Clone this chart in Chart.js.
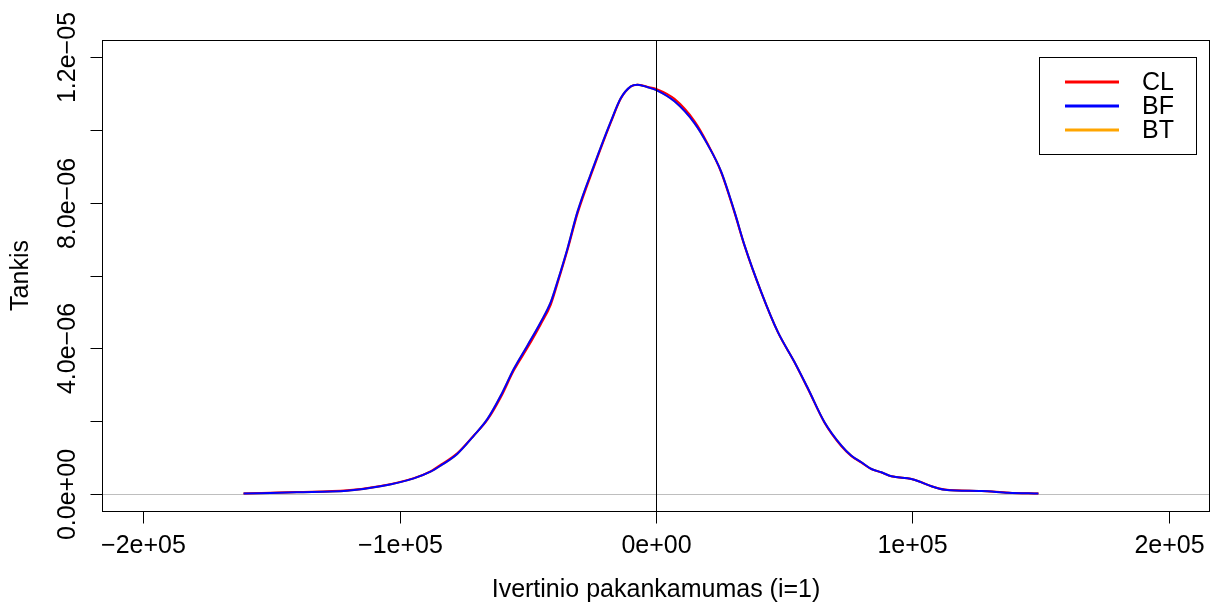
<!DOCTYPE html>
<html>
<head>
<meta charset="utf-8">
<script src="https://cdn.jsdelivr.net/npm/chart.js@4"></script>
<style>
  body { margin: 0; background: #ffffff; }
  #wrap { width: 1211px; height: 603px; }
</style>
</head>
<body>
<div id="wrap"><canvas id="densityChart" width="1211" height="603"></canvas></div>
<script>
// density grid (x) and the three estimated densities
const xGrid = [-160800, -140000, -120400, -107400, -94400, -87900, -84000, -77500, -71000, -65700,
  -60500, -55400, -50100, -44900, -41000, -38400, -34500, -30600, -24100, -17600,
  -13700, -9800, -7200, -3200, 300, 7200, 15000, 20200, 25400, 30600,
  34500, 41000, 47500, 54000, 59300, 65700, 72300, 76200, 80100, 84000,
  87900, 91800, 99600, 103500, 107400, 112600, 127000, 137400, 149100];

const densCL = [0.0, 0.040, 0.090, 0.210, 0.425, 0.610, 0.790, 1.110, 1.600, 2.030,
  2.650, 3.390, 4.010, 4.660, 5.200, 5.780, 6.700, 7.700, 9.000, 10.210,
  10.870, 11.200, 11.250, 11.190, 11.130, 10.860, 10.250, 9.620, 8.840, 7.730,
  6.820, 5.540, 4.440, 3.610, 2.870, 1.950, 1.300, 1.030, 0.850, 0.670,
  0.580, 0.475, 0.400, 0.310, 0.200, 0.110, 0.072, 0.025, 0.0];

const densBF = [0.0, 0.033, 0.077, 0.199, 0.419, 0.601, 0.767, 1.090, 1.595, 2.055,
  2.698, 3.434, 4.077, 4.723, 5.274, 5.834, 6.745, 7.757, 9.043, 10.240,
  10.883, 11.205, 11.250, 11.178, 11.095, 10.792, 10.193, 9.594, 8.861, 7.757,
  6.836, 5.550, 4.447, 3.619, 2.883, 1.964, 1.319, 1.043, 0.861, 0.676,
  0.585, 0.475, 0.400, 0.309, 0.199, 0.105, 0.069, 0.022, 0.0];

const densBT = [0.0, 0.033, 0.077, 0.199, 0.419, 0.601, 0.767, 1.090, 1.595, 2.055,
  2.698, 3.434, 4.077, 4.723, 5.274, 5.834, 6.745, 7.757, 9.043, 10.240,
  10.883, 11.205, 11.250, 11.178, 11.095, 10.792, 10.193, 9.594, 8.861, 7.757,
  6.836, 5.550, 4.447, 3.619, 2.883, 1.964, 1.319, 1.043, 0.861, 0.676,
  0.585, 0.475, 0.400, 0.309, 0.199, 0.105, 0.069, 0.022, 0.0];

const seriesNames = ['CL', 'BF', 'BT'];
const seriesColors = ['#ff0000', '#0000ff', '#ffa500'];

const xTickValues = [-200000, -100000, 0, 100000, 200000];
const xTickLabels = ['\u22122e+05', '\u22121e+05', '0e+00', '1e+05', '2e+05'];
const yTickValues = [0, 2e-6, 4e-6, 6e-6, 8e-6, 1e-5, 1.2e-5];
const yTickLabels = ['0.0e+00', '', '4.0e\u221206', '', '8.0e\u221206', '', '1.2e\u221205'];

const xTitle = 'Ivertinio pakankamumas (i=1)';
const yTitle = 'Tankis';

const FONT = '25px "Liberation Sans", Arial, Helvetica, sans-serif';

function toPoints(vals) {
    return xGrid.map((x, i) => ({ x: x, y: vals[i] * 1e-6 }));
}

// R-style frame, axes, reference lines and legend
const baseGraphics = {
    id: 'baseGraphics',
    beforeDatasetsDraw(chart) {
        const ctx = chart.ctx;
        const a = chart.chartArea;
        const y0 = chart.scales.y.getPixelForValue(0);
        ctx.save();
        ctx.strokeStyle = '#bebebe';
        ctx.lineWidth = 1;
        ctx.beginPath();
        ctx.moveTo(a.left, Math.round(y0) + 0.5);
        ctx.lineTo(a.right, Math.round(y0) + 0.5);
        ctx.stroke();
        ctx.restore();
    },
    afterDatasetsDraw(chart) {
        const ctx = chart.ctx;
        const a = chart.chartArea;
        const xs = chart.scales.x;
        const ys = chart.scales.y;
        ctx.save();
        // vertical line at zero
        const vx = Math.round(xs.getPixelForValue(0)) + 0.5;
        ctx.strokeStyle = '#000000';
        ctx.lineWidth = 1;
        ctx.beginPath();
        ctx.moveTo(vx, a.top);
        ctx.lineTo(vx, a.bottom);
        ctx.stroke();

        // box
        ctx.strokeRect(Math.round(a.left) + 0.5, Math.round(a.top) + 0.5,
            Math.round(a.right - a.left) - 1, Math.round(a.bottom - a.top));

        // x ticks and labels
        ctx.fillStyle = '#000000';
        ctx.font = FONT;
        ctx.textAlign = 'center';
        ctx.textBaseline = 'alphabetic';
        const by = Math.round(a.bottom) + 0.5;
        xTickValues.forEach((v, i) => {
            const px = Math.round(xs.getPixelForValue(v)) + 0.5;
            ctx.beginPath();
            ctx.moveTo(px, by);
            ctx.lineTo(px, by + 12);
            ctx.stroke();
            ctx.fillText(xTickLabels[i], px, 553);
        });
        ctx.fillText(xTitle, (a.left + a.right) / 2, 597);

        // y ticks and labels (rotated)
        const bx = Math.round(a.left) + 0.5;
        yTickValues.forEach((v, i) => {
            const py = Math.round(ys.getPixelForValue(v)) + 0.5;
            ctx.beginPath();
            ctx.moveTo(bx, py);
            ctx.lineTo(bx - 12, py);
            ctx.stroke();
            if (yTickLabels[i]) {
                ctx.save();
                ctx.translate(75, py);
                ctx.rotate(-Math.PI / 2);
                ctx.fillText(yTickLabels[i], 0, 0);
                ctx.restore();
            }
        });
        ctx.save();
        ctx.translate(28, (a.top + a.bottom) / 2);
        ctx.rotate(-Math.PI / 2);
        ctx.fillText(yTitle, 0, 0);
        ctx.restore();

        // legend
        ctx.strokeRect(1039.5, 57.5, 157, 97);
        ctx.textAlign = 'left';
        ctx.textBaseline = 'middle';
        seriesNames.forEach((name, i) => {
            const ly = 82 + i * 24;
            ctx.strokeStyle = seriesColors[i];
            ctx.lineWidth = 3;
            ctx.beginPath();
            ctx.moveTo(1065, ly);
            ctx.lineTo(1119, ly);
            ctx.stroke();
            ctx.fillStyle = '#000000';
            ctx.fillText(name, 1142, ly + 1);
        });
        ctx.restore();
    }
};

const ctx = document.getElementById('densityChart');
new Chart(ctx, {
    type: 'line',
    data: {
        datasets: [
            { label: 'BF', data: toPoints(densBF), borderColor: seriesColors[1], order: 0 },
            { label: 'CL', data: toPoints(densCL), borderColor: seriesColors[0], order: 1 },
            { label: 'BT', data: toPoints(densBT), borderColor: seriesColors[2], order: 2 }
        ]
    },
    options: {
        responsive: false,
        animation: false,
        layout: { padding: { left: 102, top: 40, right: 1, bottom: 92 } },
        elements: {
            line: { borderWidth: 2, cubicInterpolationMode: 'monotone', fill: false },
            point: { radius: 0 }
        },
        scales: {
            x: { type: 'linear', min: -216000, max: 216000, display: false },
            y: { type: 'linear', min: -4.8e-7, max: 1.248e-5, display: false }
        },
        plugins: {
            legend: { display: false },
            tooltip: { enabled: false }
        }
    },
    plugins: [baseGraphics]
});
</script>
</body>
</html>
